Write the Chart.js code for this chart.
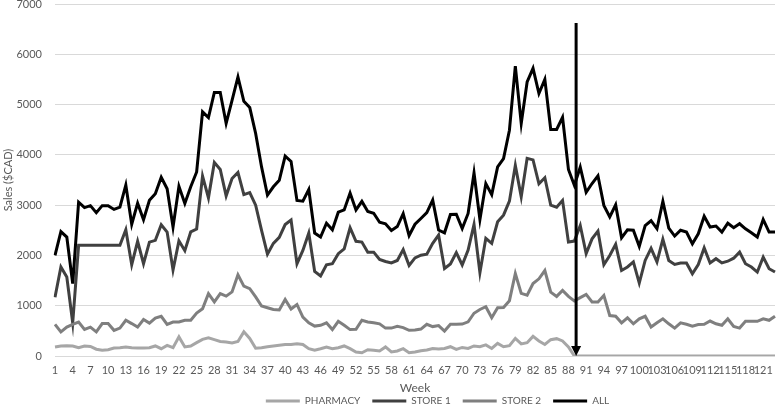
<!DOCTYPE html>
<html>
<head>
<meta charset="utf-8">
<script src="https://cdn.jsdelivr.net/npm/chart.js@4.4.0/dist/chart.umd.min.js"></script>
<style>
    html, body { margin: 0; padding: 0; background: #fff; }
    #wrap { width: 778px; height: 407px; }
</style>
</head>
<body>
<div id="wrap"><canvas id="grafico" width="778" height="407"></canvas></div>
<script>
// Semanas 1..123
const semanas = Array.from({ length: 123 }, (_, i) => String(i + 1));

const pharmacy = [
    180, 200, 205, 200, 165, 200, 190, 135, 115, 125, 160, 165, 180, 165, 160, 160, 165, 200, 145, 210,
    165, 380, 180, 200, 265, 330, 360, 325, 290, 280, 260, 290, 480, 350, 155, 165, 185, 200, 215, 230,
    230, 245, 230, 145, 115, 145, 180, 145, 165, 200, 145, 80, 65, 125, 115, 100, 180, 80, 100, 145,
    65, 80, 105, 120, 150, 140, 150, 185, 130, 170, 150, 200, 185, 220, 150, 250, 185, 205, 350, 240,
    265, 390, 300, 230, 325, 345, 300, 180, 0, 0, 0, 0, 0, 0, 0, 0, 0, 0, 0, 0,
    0, 0, 0, 0, 0, 0, 0, 0, 0, 0, 0, 0, 0, 0, 0, 0, 0, 0, 0, 0,
    0, 0, 0
];

const store1 = [
    1170, 1770, 1570, 660, 2200, 2200, 2200, 2200, 2200, 2200, 2200, 2200, 2510, 1815, 2280, 1835, 2265, 2300, 2610, 2465,
    1710, 2290, 2095, 2470, 2525, 3580, 3145, 3850, 3710, 3185, 3530, 3650, 3210, 3250, 3000, 2500, 2025, 2240, 2360, 2615,
    2705, 1835, 2100, 2445, 1680, 1590, 1815, 1835, 2035, 2130, 2550, 2280, 2265, 2065, 2065, 1920, 1880, 1850, 1900, 2115,
    1800, 1950, 2005, 2025, 2240, 2405, 1740, 1830, 2055, 1810, 2105, 2615, 1655, 2340, 2240, 2670, 2800, 3080, 3790, 3165,
    3930, 3900, 3425, 3545, 3000, 2960, 3095, 2265, 2285, 2595, 2035, 2330, 2485, 1815, 2000, 2220, 1700, 1770, 1870, 1450,
    1900, 2140, 1870, 2320, 1900, 1820, 1850, 1850, 1635, 1820, 2150, 1850, 1935, 1850, 1885, 1945, 2065, 1835, 1770, 1670,
    1965, 1735, 1670
];

const store2 = [
    630, 480, 575, 630, 675, 530, 575, 480, 645, 645, 510, 555, 710, 645, 575, 725, 655, 755, 790, 630,
    675, 675, 710, 710, 855, 940, 1240, 1075, 1240, 1190, 1275, 1615, 1390, 1340, 1175, 995, 960, 925, 915, 1125,
    935, 1025, 775, 660, 595, 610, 660, 525, 690, 610, 525, 530, 710, 675, 660, 640, 555, 555, 590, 565,
    510, 515, 535, 630, 585, 605, 495, 630, 630, 635, 680, 850, 925, 980, 760, 960, 965, 1100, 1640, 1245,
    1210, 1440, 1535, 1700, 1270, 1185, 1305, 1185, 1095, 1160, 1225, 1075, 1075, 1205, 805, 790, 660, 760, 640, 740,
    790, 575, 660, 740, 640, 555, 660, 630, 595, 625, 630, 695, 640, 610, 740, 590, 555, 690, 690, 690,
    740, 710, 790
];

const todas = [
    2000, 2475, 2365, 1440, 3060, 2950, 2990, 2850, 2990, 2990, 2915, 2960, 3400, 2620, 3040, 2710, 3095, 3225, 3555, 3325,
    2565, 3375, 3035, 3365, 3660, 4855, 4740, 5240, 5240, 4625, 5085, 5550, 5065, 4940, 4425, 3760, 3200, 3365, 3495, 3975,
    3870, 3095, 3080, 3310, 2445, 2365, 2640, 2510, 2860, 2905, 3240, 2905, 3075, 2875, 2840, 2660, 2630, 2495, 2575, 2830,
    2395, 2620, 2735, 2850, 3100, 2505, 2450, 2815, 2820, 2535, 2835, 3640, 2715, 3430, 3210, 3760, 3925, 4490, 5765, 4625,
    5450, 5720, 5220, 5500, 4505, 4505, 4745, 3710, 3395, 3755, 3255, 3430, 3585, 2995, 2765, 3005, 2350, 2510, 2500, 2180,
    2595, 2690, 2530, 3075, 2545, 2385, 2500, 2465, 2230, 2430, 2780, 2565, 2585, 2465, 2640, 2550, 2630, 2530, 2450, 2365,
    2715, 2465, 2465
];

// seta vertical (semana e topo em valores do gráfico)
const SETA_SEMANA = 89.3;
const SETA_TOPO = 6620;

const cinzaTexto = '#595959';
const fonte = 'Lato, "Open Sans", sans-serif';

const setaPlugin = {
    id: 'seta',
    afterDatasetsDraw(chart) {
        const { ctx, scales: { x, y } } = chart;
        const px = x.getPixelForValue(SETA_SEMANA - 1);
        const topo = y.getPixelForValue(SETA_TOPO);
        const base = y.getPixelForValue(0);
        ctx.save();
        ctx.strokeStyle = '#000';
        ctx.lineWidth = 3;
        ctx.beginPath();
        ctx.moveTo(px, topo);
        ctx.lineTo(px, base - 8);
        ctx.stroke();
        ctx.fillStyle = '#000';
        ctx.beginPath();
        ctx.moveTo(px - 5, base - 10);
        ctx.lineTo(px + 5, base - 10);
        ctx.lineTo(px, base);
        ctx.closePath();
        ctx.fill();
        ctx.restore();
    }
};

// empurra a legenda para a posição do original
const legendaPlugin = {
    id: 'legendaPos',
    afterLayout(chart) {
        const leg = chart.legend;
        leg.left += 50;
        leg.right += 50;
        leg.top -= 11;
        leg.bottom = chart.height;
    }
};

function serie(label, data, cor, ordem) {
    return {
        label: label,
        data: data,
        borderColor: cor,
        backgroundColor: cor,
        borderWidth: 3,
        pointRadius: 0,
        tension: 0,
        fill: false,
        order: ordem
    };
}

const ctx = document.getElementById('grafico').getContext('2d');
new Chart(ctx, {
    type: 'line',
    data: {
        labels: semanas,
        datasets: [
            serie('PHARMACY', pharmacy, '#a6a6a6', 3),
            serie('STORE 1', store1, '#404040', 2),
            serie('STORE 2', store2, '#7f7f7f', 1),
            serie('ALL', todas, '#000000', 0)
        ]
    },
    options: {
        responsive: false,
        animation: false,
        devicePixelRatio: 1,
        layout: { padding: { left: 0, right: 3, top: 0, bottom: 0 } },
        plugins: {
            tooltip: { enabled: false },
            legend: {
                position: 'bottom',
                maxHeight: 12,
                labels: {
                    boxWidth: 34,
                    boxHeight: 3,
                    padding: 12,
                    color: cinzaTexto,
                    font: { family: fonte, size: 10 },
                    sort: (a, b) => a.datasetIndex - b.datasetIndex,
                    generateLabels(chart) {
                        const itens = Chart.defaults.plugins.legend.labels.generateLabels(chart);
                        itens.forEach(it => { it.lineWidth = 0; it.fillStyle = it.strokeStyle; });
                        return itens;
                    }
                }
            }
        },
        scales: {
            x: {
                afterFit(scale) {
                    scale.height = 39;
                    scale.paddingLeft = 0;
                    scale.paddingRight = 0;
                },
                grid: { display: false, drawTicks: false },
                border: { display: false },
                title: {
                    display: true,
                    text: 'Week',
                    color: cinzaTexto,
                    font: { family: fonte, size: 12 },
                    padding: { top: 0, bottom: 0 }
                },
                ticks: {
                    autoSkip: false,
                    maxRotation: 0,
                    padding: 8,
                    color: cinzaTexto,
                    font: { family: fonte, size: 11 },
                    callback: function (valor, indice) {
                        return indice % 3 === 0 ? this.getLabelForValue(valor) : '';
                    }
                }
            },
            y: {
                min: 0,
                max: 7000,
                afterFit(scale) {
                    scale.width = 55;
                    scale.paddingTop = 4;
                    scale.paddingBottom = 0;
                },
                grid: { color: '#d9d9d9', lineWidth: 1, drawTicks: false },
                border: { display: false },
                title: {
                    display: true,
                    text: 'Sales ($CAD)',
                    color: cinzaTexto,
                    font: { family: fonte, size: 11 },
                    padding: { top: 2, bottom: 0 }
                },
                ticks: {
                    stepSize: 1000,
                    padding: 13,
                    color: cinzaTexto,
                    font: { family: fonte, size: 11 },
                    callback: valor => String(valor)
                }
            }
        }
    },
    plugins: [setaPlugin, legendaPlugin]
});
</script>
</body>
</html>
